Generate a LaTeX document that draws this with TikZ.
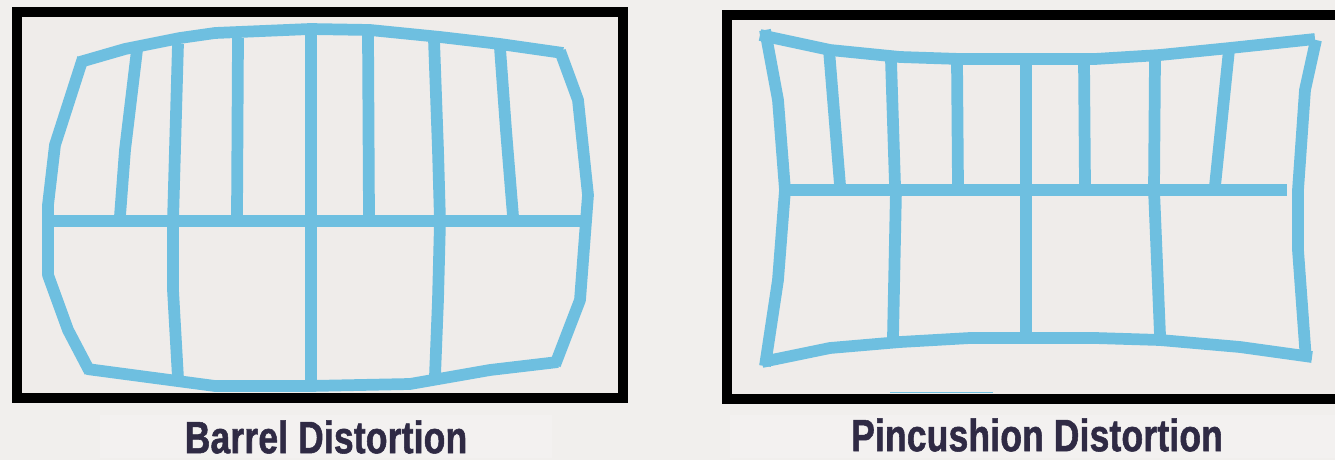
\documentclass[tikz,border=0pt]{standalone}
\usepackage{fontspec}
\usepackage{xcolor}
\usepackage{tikz}
\setmainfont{Liberation Sans}[FakeStretch=0.78,FakeBold=1.2,LetterSpace=0.5]
\definecolor{pagecolor}{RGB}{241,239,237}
\definecolor{bandcolor}{RGB}{243,241,240}
\definecolor{insidecolor}{RGB}{239,236,234}
\definecolor{gridcolor}{RGB}{110,191,224}
\definecolor{captioncolor}{RGB}{47,42,68}

\begin{document}
\begin{tikzpicture}[
  x=0.75pt, y=-0.75pt,
  frame/.style={draw=black, line width=8pt, fill=insidecolor, miter limit=4},
  grid/.style={draw=gridcolor, line width=8.8pt, line join=round},
  band/.style={fill=bandcolor, draw=none},
  caption/.style={font=\fontsize{34}{36}\selectfont\bfseries, text=captioncolor, inner sep=0pt},
]
\useasboundingbox (0,0) rectangle (1335,460);
\fill[pagecolor] (0,0) rectangle (1335,460);
\fill[band] (100,415) rectangle (552,458);
\fill[band] (730,415) rectangle (1335,458);

% Barrel
\draw[frame] (17,12) -- (623,12) -- (623,398) -- (17,398) -- cycle;
\draw[grid] (80,62) -- (125,49) -- (180,38) -- (215,33) -- (310,29) -- (370,30) -- (440,37) -- (500,44) -- (563,53);
\draw[grid] (560,51) -- (578,100) -- (588,195) -- (580,300) -- (555,365);
\draw[grid] (558,362) -- (490,370) -- (410,384) -- (310,386) -- (215,386) -- (87,369);
\draw[grid] (90,372) -- (68,330) -- (48,275) -- (48,205) -- (55,145) -- (83,58);
\draw[grid] (48,221) -- (583,221);
\draw[grid] (137,50) -- (125,150) -- (120,216);
\draw[grid] (178,44) -- (175,150) -- (173,221) -- (173,290) -- (178,378);
\draw[grid] (238,38) -- (237,216);
\draw[grid] (311,30) -- (311,384);
\draw[grid] (368,33) -- (369,216);
\draw[grid] (434,40) -- (438,150) -- (440,221) -- (438,300) -- (435,376);
\draw[grid] (500,48) -- (506,130) -- (513,216);
\node[caption] (barrel_label) at (326,437) {Barrel Distortion};

% Pincushion
\draw[frame] (727,15) -- (1340,15) -- (1340,399) -- (727,399) -- cycle;
\draw[gridcolor, line width=0.6pt] (890,392.6) -- (993,392.6);
\draw[grid] (760,35) -- (830,50) -- (900,57) -- (960,59) -- (1095,59) -- (1160,55) -- (1230,48) -- (1315,39);
\draw[grid] (1316,40) -- (1305,90) -- (1298,190) -- (1298,250) -- (1306,360);
\draw[grid] (1312,357) -- (1240,347) -- (1160,340) -- (1095,338) -- (970,338) -- (900,342) -- (830,348) -- (762,362);
\draw[grid] (765,366) -- (778,280) -- (785,190) -- (778,100) -- (765,30);
\draw[grid] (785,190) -- (1287,190);
\draw[grid] (829,50) -- (840,185);
\draw[grid] (891,60) -- (895,185) -- (896,190) -- (893,337);
\draw[grid] (957,60) -- (958,186);
\draw[grid] (1026,60) -- (1026,335);
\draw[grid] (1084,60) -- (1085,186);
\draw[grid] (1155,58) -- (1154,190) -- (1160,335);
\draw[grid] (1229,50) -- (1215,186);
\node[caption] (pincushion_label) at (1037,435) {Pincushion Distortion};

\end{tikzpicture}
\end{document}
